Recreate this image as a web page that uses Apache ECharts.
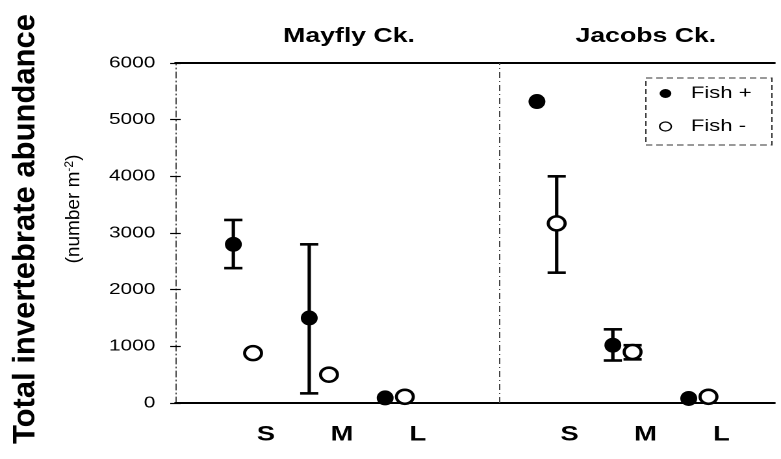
<!DOCTYPE html>
<html>
<head>
<meta charset="utf-8">
<script src="https://cdn.jsdelivr.net/npm/echarts@6/dist/echarts.min.js"></script>
<style>
  html, body { margin: 0; padding: 0; background: #fff; overflow: hidden; }
  /* the scanned figure is stretched sideways, so draw narrower and widen */
  #chart { width: 601px; height: 459px; transform: scaleX(1.2995); transform-origin: 0 0; }
</style>
</head>
<body>
<div id="chart"></div>
<script>
// size classes and streams
const sizeClasses = ["S", "M", "L"];
const streams = ["Mayfly Ck.", "Jacobs Ck."];

// means and error bar ends, order: Mayfly S M L, Jacobs S M L
const fishPlusMean = [2800, 1500, 90, 5320, 1020, 80];
const fishPlusLow = [2380, 170, null, null, 750, null];
const fishPlusHigh = [3230, 2800, null, null, 1300, null];

const fishMinusMean = [880, 500, 110, 3170, 900, 110];
const fishMinusLow = [null, null, null, 2300, 770, null];
const fishMinusHigh = [null, null, null, 4000, 1020, null];

const yTicks = [0, 1000, 2000, 3000, 4000, 5000, 6000];

const STRETCH = 1.2995;

// x position of each group (stream block + size class)
const groupX = [];
streams.forEach((s, si) => {
  sizeClasses.forEach((c, ci) => groupX.push(si * 4 + ci));
});
const dodge = 0.26;
const labelShift = 0.43;

const plusPoints = fishPlusMean.map((v, i) => [groupX[i], v]);
const minusPoints = fishMinusMean.map((v, i) => [groupX[i] + dodge, v]);

const errData = [];
fishPlusMean.forEach((v, i) => {
  if (fishPlusLow[i] != null) errData.push([groupX[i], fishPlusLow[i], fishPlusHigh[i]]);
});
fishMinusMean.forEach((v, i) => {
  if (fishMinusLow[i] != null) errData.push([groupX[i] + dodge, fishMinusLow[i], fishMinusHigh[i]]);
});

const chart = echarts.init(document.getElementById("chart"), null, { devicePixelRatio: 2 });

// error bar: stem + caps
const renderErr = (params, api) => {
  const x = api.value(0);
  const lo = api.coord([x, api.value(1)]);
  const hi = api.coord([x, api.value(2)]);
  const w = 7;
  const st = { stroke: "#000", lineWidth: 2.6 };
  return {
    type: "group",
    children: [
      { type: "line", shape: { x1: lo[0], y1: lo[1], x2: hi[0], y2: hi[1] }, style: st },
      { type: "line", shape: { x1: lo[0] - w, y1: lo[1], x2: lo[0] + w, y2: lo[1] }, style: st },
      { type: "line", shape: { x1: hi[0] - w, y1: hi[1], x2: hi[0] + w, y2: hi[1] }, style: st },
    ],
  };
};

const dashDot = [6, 3, 1, 3];
const font = "Liberation Sans";

const options = {
  animation: false,
  backgroundColor: "#fff",
  textStyle: { fontFamily: font, color: "#000" },
  title: [
    {
      text: streams[0],
      left: 268.6,
      top: 26,
      padding: 0,
      textAlign: "center",
      textStyle: { fontSize: 20.5, fontWeight: "bold", color: "#000", fontFamily: font },
    },
    {
      text: streams[1],
      left: 497,
      top: 26,
      padding: 0,
      textAlign: "center",
      textStyle: { fontSize: 20.5, fontWeight: "bold", color: "#000", fontFamily: font },
    },
  ],
  legend: {
    orient: "vertical",
    left: 507,
    top: 85,
    padding: 0,
    itemGap: 16,
    itemWidth: 9,
    itemHeight: 11,
    data: [
      { name: "Fish +", icon: "circle" },
      { name: "Fish -", icon: "circle", itemStyle: { color: "#fff", borderColor: "#000", borderWidth: 1.2 } },
    ],
    textStyle: { fontSize: 17, color: "#000", fontFamily: font, padding: [0, 0, 0, 10] },
  },
  graphic: [
    {
      type: "rect",
      shape: { x: 497, y: 78, width: 97, height: 67 },
      style: { fill: "none", stroke: "#333", lineWidth: 1, lineDash: [5, 3] },
      silent: true,
    },
    {
      type: "text",
      x: 20,
      y: 229,
      rotation: Math.PI / 2,
      scaleY: 1 / STRETCH,
      style: {
        text: "Total invertebrate abundance",
        fontSize: 31,
        fontWeight: "bold",
        fontFamily: font,
        fill: "#000",
        align: "center",
        verticalAlign: "middle",
      },
    },
    {
      type: "text",
      x: 57,
      y: 209,
      rotation: Math.PI / 2,
      scaleY: 1 / STRETCH,
      style: {
        text: "(number m{sup|-2})",
        fontSize: 19,
        fontFamily: font,
        fill: "#000",
        align: "center",
        verticalAlign: "middle",
        rich: {
          sup: { fontSize: 12, fontFamily: font, fill: "#000", verticalAlign: "top", padding: [0, 0, 9, 0] },
        },
      },
    },
  ],
  grid: { left: 135, right: 5, top: 63, bottom: 56 },
  xAxis: [
    {
      type: "value",
      min: -0.763,
      max: 7.13,
      position: "bottom",
      splitLine: { show: false },
      axisLine: { show: true, onZero: false, lineStyle: { color: "#000", width: 2 } },
      axisTick: { show: false },
      axisLabel: {
        customValues: groupX.map((x) => x + labelShift),
        formatter: (v) => sizeClasses[Math.round(v - labelShift) % 4],
        fontSize: 21,
        fontWeight: "bold",
        color: "#000",
        fontFamily: font,
        margin: 21,
      },
    },
    {
      type: "value",
      min: -0.763,
      max: 7.13,
      position: "top",
      splitLine: { show: false },
      axisLine: { show: true, onZero: false, lineStyle: { color: "#000", width: 2 } },
      axisTick: { show: false },
      axisLabel: { show: false },
    },
  ],
  yAxis: [
    {
      type: "value",
      min: yTicks[0],
      max: yTicks[yTicks.length - 1],
      interval: 1000,
      splitLine: { show: false },
      axisLine: { show: true, onZero: false, lineStyle: { color: "#444", width: 1, type: dashDot } },
      axisTick: { show: true, length: 4, lineStyle: { color: "#000", width: 1.2 } },
      axisLabel: { fontSize: 16, color: "#000", margin: 15.5, fontFamily: font, formatter: (v) => String(v) },
    },
    {
      type: "value",
      min: yTicks[0],
      max: yTicks[yTicks.length - 1],
      interval: 1000,
      position: "left",
      splitLine: { show: false },
      axisLine: { show: false, onZero: false },
      axisTick: { show: true, inside: true, length: 4, lineStyle: { color: "#000", width: 1.2 } },
      axisLabel: { show: false },
    },
  ],
  series: [
    {
      name: "errors",
      type: "custom",
      renderItem: renderErr,
      data: errData,
      encode: { x: 0, y: [1, 2] },
      clip: false,
      z: 2,
      markLine: {
        silent: true,
        symbol: "none",
        label: { show: false },
        lineStyle: { color: "#444", width: 1, type: dashDot },
        data: [{ xAxis: 3.5 }],
      },
    },
    {
      name: "Fish +",
      type: "scatter",
      data: plusPoints,
      symbol: "circle",
      symbolSize: [13, 15],
      itemStyle: { color: "#000", opacity: 1 },
      clip: false,
      z: 3,
    },
    {
      name: "Fish -",
      type: "scatter",
      data: minusPoints,
      symbol: "circle",
      symbolSize: [13, 14],
      itemStyle: { color: "#fff", borderColor: "#000", borderWidth: 2.5, opacity: 1 },
      clip: false,
      z: 3,
    },
  ],
};

chart.setOption(options);
</script>
</body>
</html>
